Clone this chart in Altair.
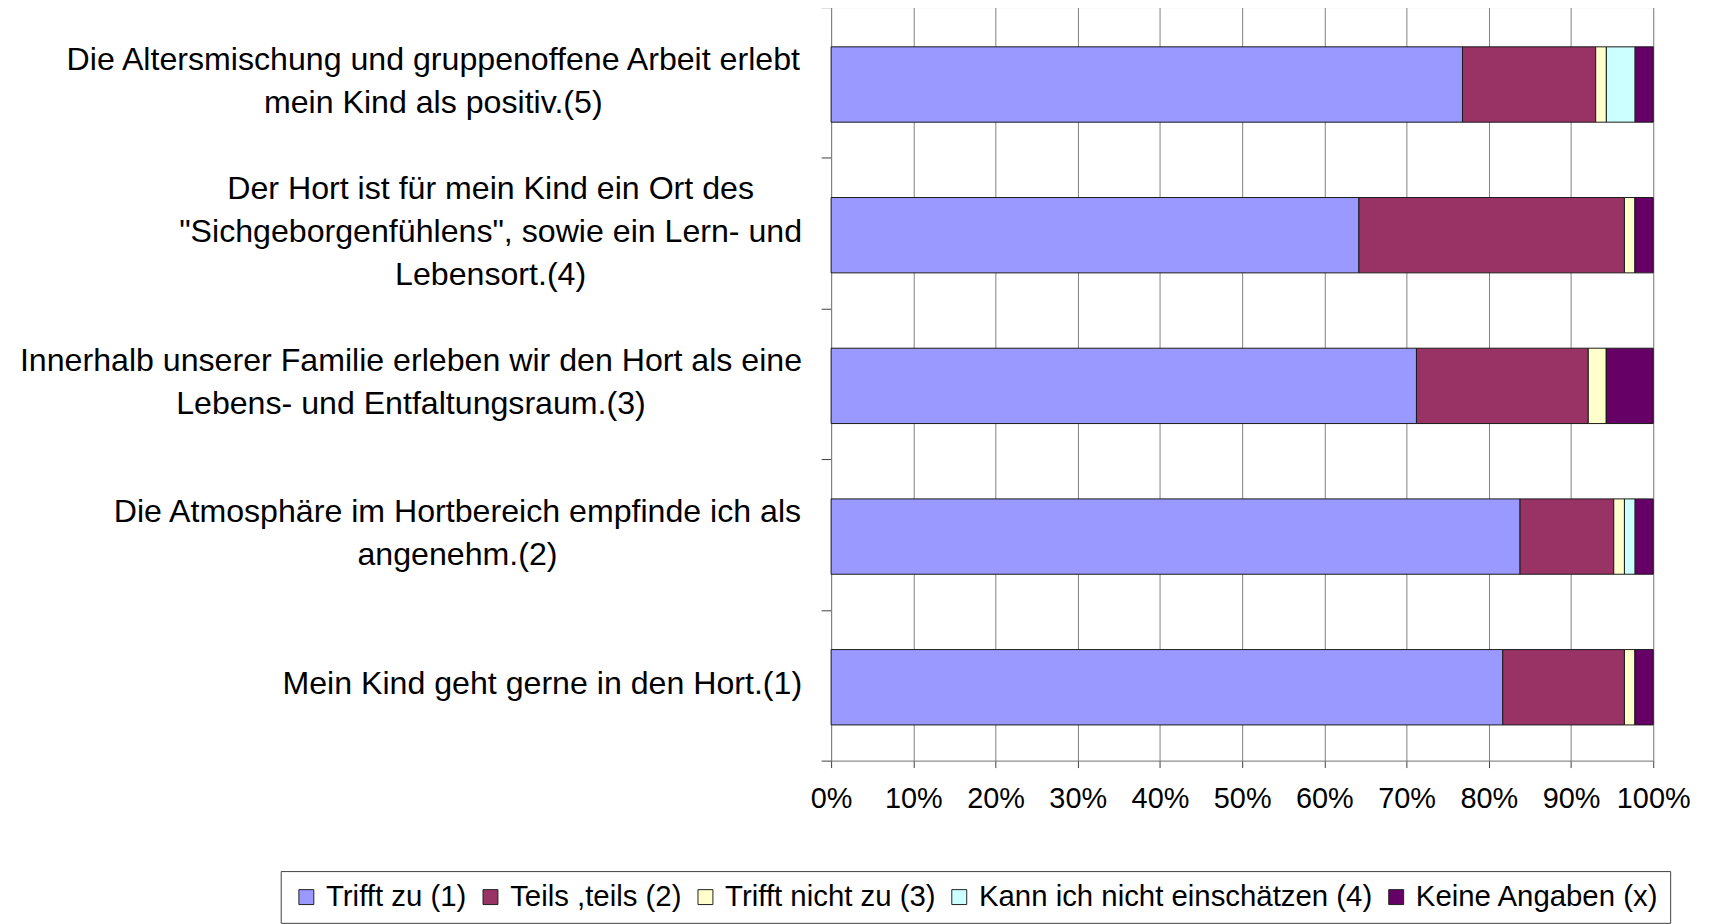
import altair as alt
import pandas as pd

# ---- data ----
statements = [
    ["Die Altersmischung und gruppenoffene Arbeit erlebt", "mein Kind als positiv.(5)"],
    ["Der Hort ist für mein Kind ein Ort des", "\"Sichgeborgenfühlens\", sowie ein Lern- und", "Lebensort.(4)"],
    ["Innerhalb unserer Familie erleben wir den Hort als eine", "Lebens- und Entfaltungsraum.(3)"],
    ["Die Atmosphäre im Hortbereich empfinde ich als", "angenehm.(2)"],
    ["Mein Kind geht gerne in den Hort.(1)"],
]
responses = ["Trifft zu (1)", "Teils ,teils (2)", "Trifft nicht zu (3)",
             "Kann ich nicht einschätzen (4)", "Keine Angaben (x)"]
trifft_zu = [76.8, 64.2, 71.2, 83.8, 81.7]
teils_teils = [16.2, 32.3, 20.9, 11.4, 14.8]
trifft_nicht_zu = [1.3, 1.3, 2.2, 1.3, 1.3]
kann_nicht = [3.5, 0.0, 0.0, 1.3, 0.0]
keine_angaben = [2.2, 2.2, 5.7, 2.2, 2.2]
tick_values = [0.0, 0.1, 0.2, 0.3, 0.4, 0.5, 0.6, 0.7, 0.8, 0.9, 1.0]
colors = ["#9999FF", "#993366", "#FFFFCC", "#CCFFFF", "#660066"]

series = [trifft_zu, teils_teils, trifft_nicht_zu, kann_nicht, keine_angaben]
keys = [" ".join(s) for s in statements]

rows = []
for ri, (resp, vals) in enumerate(zip(responses, series)):
    for key, v in zip(keys, vals):
        rows.append({"stmt": key, "resp": resp, "order": ri, "value": v})
df = pd.DataFrame(rows)

FONT = "Liberation Sans"
LABEL_SIZE = 32.3
LINE_H = 43.6
GAP = 29

# approximate Arial / Liberation Sans advance widths (per 1000 em)
AW = {" ": 278, "!": 278, '"': 355, "(": 333, ")": 333, ",": 278, "-": 333, ".": 278,
      "A": 667, "D": 722, "E": 667, "F": 611, "H": 722, "I": 278, "K": 667, "L": 556,
      "M": 833, "O": 778, "S": 667, "T": 611,
      "a": 556, "b": 556, "c": 500, "d": 556, "e": 556, "f": 278, "g": 556, "h": 556,
      "i": 222, "j": 222, "k": 500, "l": 222, "m": 833, "n": 556, "o": 556, "p": 556,
      "q": 556, "r": 333, "s": 500, "t": 278, "u": 556, "v": 500, "w": 722, "x": 500,
      "y": 500, "z": 500, "ä": 556, "ü": 556, "ö": 556}


def text_width(s, size):
    return sum(AW.get(c, 556) for c in s) / 1000.0 * size


lab_df = pd.DataFrame({"stmt": keys, "lines": statements})

y_scale = alt.Scale(paddingInner=0, paddingOuter=0)

bars = alt.Chart(df).mark_bar(
    stroke="#1a1a1a", strokeWidth=1, height=alt.RelativeBandSize(0.5), yOffset=2
).encode(
    x=alt.X("value:Q", stack="normalize", title=None,
            scale=alt.Scale(domain=[0, 1], nice=False),
            axis=alt.Axis(format=".0%", values=tick_values, labelOverlap=False,
                          grid=True, gridColor="#808080", gridWidth=1,
                          domainColor="#808080", tickColor="#404040", tickSize=7,
                          labelFontSize=29, labelFont=FONT, labelColor="black",
                          labelPadding=17, labelFlush=False)),
    y=alt.Y("stmt:N", sort=keys, title=None, scale=y_scale,
            axis=alt.Axis(labels=False, ticks=True, tickBand="extent", tickSize=10,
                          tickColor="#404040", domainColor="#808080", grid=False)),
    color=alt.Color("resp:N", sort=responses,
                    scale=alt.Scale(domain=responses, range=colors),
                    legend=alt.Legend(title=None, orient="none", direction="horizontal",
                                      legendX=-553, legendY=868,
                                      labelFontSize=29.5, labelFont=FONT, labelColor="black",
                                      symbolType="square", symbolSize=225,
                                      symbolStrokeColor="#222222", symbolStrokeWidth=1,
                                      labelOffset=5, columnPadding=9, padding=11,
                                      strokeColor="#404040", fillColor="white",
                                      labelLimit=0)),
    order=alt.Order("order:Q", sort="ascending"),
)

layers = [bars]
for key, lines in zip(keys, statements):
    w = max(text_width(l, LABEL_SIZE) for l in lines)
    txt = alt.Chart(lab_df).transform_filter(alt.datum.stmt == key).mark_text(
        align="center", baseline="middle", font=FONT, fontSize=LABEL_SIZE,
        lineHeight=LINE_H, color="black", dy=-(len(lines) - 1) / 2 * LINE_H - 1.2,
    ).encode(
        x=alt.value(-(GAP + w / 2)),
        y=alt.Y("stmt:N", sort=keys, scale=y_scale),
        text="lines",
    )
    layers.append(txt)

chart = alt.layer(*layers).properties(
    width=826, height=757,
    padding={"left": 11, "top": -4, "right": 10, "bottom": 0},
).configure_view(stroke=None).configure(font=FONT)

chart.save("out.html", embed_options={"renderer": "svg", "actions": False})
